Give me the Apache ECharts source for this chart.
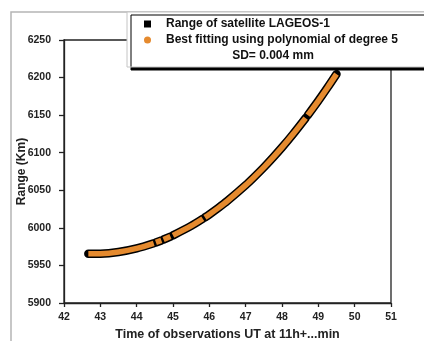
<!DOCTYPE html>
<html>
<head>
    <meta charset="utf-8" />
    <title>LAGEOS-1 range</title>
    <style type="text/css">
        html, body {
            margin: 0;
            padding: 0;
            background-color: #fff;
        }

        #chart {
            width: 424px;
            height: 341px;
        }
    </style>
</head>
<body>
    <div id="chart"></div>
    <script src="https://cdn.jsdelivr.net/npm/echarts@6/dist/echarts.min.js"></script>
    <script type="text/javascript">
        // observation time (min after 11h UT) and range (km), null = gap between passes
        var obsTime = [42.67, 43.0, 43.5, 44.0, 44.47, 44.5,
            44.53, 44.68, 44.71,
            44.74, 44.93, 44.965,
            45.0, 45.5, 45.82, 45.85,
            45.88, 46.0, 46.25, 46.5, 47.0, 47.25, 47.5, 47.75, 48.0, 48.3, 48.65, 48.68,
            48.71, 49.0, 49.25, 49.5];
        var obsRange = [5965.6, 5965.7, 5967.9, 5972.7, 5979.5, null,
            5980.6, 5983.3, null,
            5984.5, 5988.4, null,
            5990.0, 6002.6, 6012.1, null,
            6014.0, 6017.9, 6026.6, 6036.0, 6056.9, 6068.4, 6080.5, 6093.5, 6107.1, 6124.5, 6146.1, null,
            6149.9, 6169.1, 6186.5, 6204.6];
        var xTicks = [42, 51, 1];
        var yTicks = [5900, 6250, 50];
        var legendNames = ['Range of satellite LAGEOS-1', 'Best fitting using polynomial of degree 5'];
        var sdText = 'SD= 0.004 mm';

        var pairs = obsTime.map(function (t, i) {
            return [t, obsRange[i]];
        });

        var axisColor = '#222';
        var font = 'Liberation Sans, Arial';
        var labelStyle = { color: '#222', fontSize: 10.5, fontWeight: 'bold', fontFamily: font };

        var option = {
            animation: false,
            backgroundColor: '#fff',
            grid: {
                left: 64, right: 33, top: 40, bottom: 38,
                outerBoundsMode: 'none',
                containLabel: false,
                show: true, borderColor: axisColor, borderWidth: 1.3
            },
            graphic: [
                {
                    type: 'rect', z: 0,
                    shape: { x: 11, y: 12, width: 600, height: 500 },
                    style: { fill: 'none', stroke: '#b5b5b5', lineWidth: 1.5 }
                },
                {
                    type: 'rect', z: 10,
                    shape: { x: 127, y: 12, width: 400, height: 55 },
                    style: {
                        fill: '#fff', stroke: '#c4c4c4', lineWidth: 1,
                        shadowColor: '#000', shadowBlur: 0, shadowOffsetX: 4, shadowOffsetY: 3
                    }
                },
                {
                    type: 'text', z: 12, x: 273, y: 56,
                    style: {
                        text: sdText, textAlign: 'center', textVerticalAlign: 'middle',
                        fill: '#111', fontSize: 12, fontWeight: 'bold', fontFamily: font
                    }
                }
            ],
            legend: {
                z: 11,
                orient: 'vertical',
                left: 139, top: 11,
                itemWidth: 7, itemHeight: 7, itemGap: 0,
                data: [
                    { name: legendNames[0], icon: 'rect' },
                    { name: legendNames[1], icon: 'circle' }
                ],
                textStyle: {
                    color: '#111', fontSize: 12, fontWeight: 'bold', fontFamily: font,
                    lineHeight: 16, padding: [0, 0, 0, 10]
                }
            },
            xAxis: {
                type: 'value',
                min: xTicks[0], max: xTicks[1], interval: xTicks[2],
                name: 'Time of observations UT at 11h+...min',
                nameLocation: 'middle', nameGap: 24,
                nameTextStyle: { color: '#222', fontSize: 12.5, fontWeight: 'bold', fontFamily: font },
                axisLine: { show: true, lineStyle: { color: axisColor, width: 1.3 } },
                axisTick: { show: true, length: 4, lineStyle: { color: axisColor, width: 1.3 } },
                axisLabel: Object.assign({ margin: 9 }, labelStyle),
                splitLine: { show: false }
            },
            yAxis: {
                type: 'value',
                min: yTicks[0], max: yTicks[1], interval: yTicks[2],
                name: 'Range (Km)',
                nameLocation: 'middle', nameGap: 36,
                nameMoveOverlap: false,
                nameTextStyle: { color: '#222', fontSize: 12, fontWeight: 'bold', fontFamily: font },
                axisLine: { show: true, lineStyle: { color: axisColor, width: 1.3 } },
                axisTick: { show: true, length: 5, lineStyle: { color: axisColor, width: 1.3 } },
                axisLabel: Object.assign({
                    margin: 13,
                    formatter: function (v) { return String(v); }
                }, labelStyle),
                splitLine: { show: false }
            },
            series: [
                {
                    name: legendNames[0],
                    type: 'line',
                    data: pairs,
                    smooth: 0.3,
                    connectNulls: false,
                    showSymbol: false,
                    symbol: 'none',
                    itemStyle: { color: '#000' },
                    lineStyle: { color: '#000', width: 8.5, cap: 'round' },
                    z: 3
                },
                {
                    name: legendNames[1],
                    type: 'line',
                    data: pairs,
                    smooth: 0.3,
                    connectNulls: false,
                    showSymbol: false,
                    symbol: 'none',
                    itemStyle: { color: '#e58a2e' },
                    lineStyle: { color: '#e58a2e', width: 5.5, cap: 'butt' },
                    z: 4
                }
            ]
        };

        var myChart = echarts.init(document.getElementById('chart'), null, { renderer: 'canvas' });
        myChart.setOption(option);
    </script>
</body>
</html>
